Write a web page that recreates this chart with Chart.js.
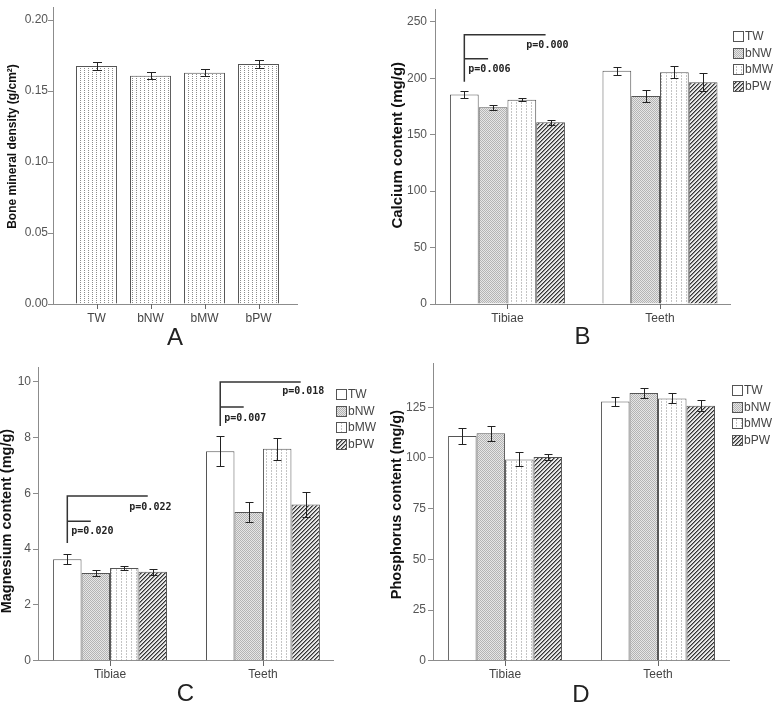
<!DOCTYPE html>
<html>
<head>
<meta charset="utf-8">
<script src="https://cdn.jsdelivr.net/npm/chart.js@4.4.1/dist/chart.umd.min.js"></script>
<style>
html, body { margin: 0; padding: 0; background: #fff; overflow: hidden; }
.panel { position: absolute; }
</style>
</head>
<body>
<div class="panel" style="left:0;top:0"><canvas id="chartA" width="390" height="350"></canvas></div>
<div class="panel" style="left:390px;top:0"><canvas id="chartB" width="385" height="350"></canvas></div>
<div class="panel" style="left:0;top:350px"><canvas id="chartC" width="390" height="354"></canvas></div>
<div class="panel" style="left:390px;top:350px"><canvas id="chartD" width="385" height="354"></canvas></div>
<script>
// ---- data ----
var groups = ['TW', 'bNW', 'bMW', 'bPW'];
var tissues = ['Tibiae', 'Teeth'];

var bmd = [0.1676, 0.1608, 0.1629, 0.1690];
var bmdSd = [0.0030, 0.0024, 0.0023, 0.0030];
var bmdTicks = [0, 0.05, 0.10, 0.15, 0.20];

// rows follow groups (TW, bNW, bMW, bPW), columns follow tissues (Tibiae, Teeth)
var calcium = [[185.7, 206.6], [174.3, 184.3], [181.0, 205.4], [161.0, 196.6]];
var calciumSd = [[3.3, 3.5], [2.0, 5.0], [1.5, 5.3], [2.0, 8.0]];
var calciumTicks = [0, 50, 100, 150, 200, 250];

var magnesium = [[3.64, 7.51], [3.14, 5.33], [3.32, 7.60], [3.19, 5.60]];
var magnesiumSd = [[0.17, 0.54], [0.10, 0.37], [0.07, 0.40], [0.11, 0.44]];
var magnesiumTicks = [0, 2, 4, 6, 8, 10];

var phosphorus = [[110.9, 127.8], [112.2, 132.0], [99.3, 129.4], [100.5, 125.8]];
var phosphorusSd = [[4.0, 2.2], [3.7, 2.5], [3.5, 2.5], [1.3, 2.8]];
var phosphorusTicks = [0, 25, 50, 75, 100, 125];

// significance brackets (y in data units)
var calciumP = [
  { cat: 0, from: 197, top: 238.6, mid: 217.4, pShort: 'p=0.006', yShort: 207.7, pLong: 'p=0.000', yLong: 228.9 }
];
var magnesiumP = [
  { cat: 0, from: 4.22, top: 5.9, mid: 5.0, pShort: 'p=0.020', yShort: 4.65, pLong: 'p=0.022', yLong: 5.5 },
  { cat: 1, from: 8.41, top: 9.99, mid: 9.09, pShort: 'p=0.007', yShort: 8.7, pLong: 'p=0.018', yLong: 9.67 }
];

// ---- fill patterns ----
function tile(w, h, fn) {
  var c = document.createElement('canvas');
  c.width = w; c.height = h;
  var g = c.getContext('2d');
  for (var y = 0; y < h; y++) {
    for (var x = 0; x < w; x++) {
      g.fillStyle = fn(x, y);
      g.fillRect(x, y, 1, 1);
    }
  }
  return g.createPattern(c, 'repeat');
}
var fillTW = '#ffffff';
var fillNW = tile(2, 2, function (x, y) { return (x + y) % 2 ? '#e6e6e6' : '#b4b4b4'; });
var fillMW = tile(5, 3, function (x, y) { return (x === 1 && y < 2) ? '#c4c4c4' : '#ffffff'; });
var fillPW = tile(4, 4, function (x, y) {
  var k = (x + y) % 4;
  return k === 3 ? '#333333' : (k === 0 ? '#8a8a8a' : '#e8e8e8');
});
var fillDots = tile(4, 2, function (x, y) { return (x === 0 && y === 0) ? '#8c8c8c' : '#ffffff'; });

var axisGray = '#8c8c8c';
var sans = 'Liberation Sans';
var sp = '\u2002';

function makePanel(id, p) {
  var datasets = p.series.map(function (vals, d) {
    return {
      label: p.labels[d],
      data: vals.map(function (v, i) { return { x: i, y: v }; }),
      backgroundColor: p.fills[d],
      borderColor: '#555',
      borderWidth: 1,
      categoryPercentage: p.catPct,
      barPercentage: 1
    };
  });

  var extras = {
    id: 'extras',
    afterDraw: function (chart) {
      var ctx = chart.ctx, ys = chart.scales.y, xs = chart.scales.x;
      var py = function (v) { return ys.getPixelForValue(v); };
      ctx.save();

      // category tick marks under the x axis
      ctx.strokeStyle = '#666';
      ctx.lineWidth = 1;
      var yb = Math.round(ys.getPixelForValue(0));
      p.cats.forEach(function (c, i) {
        var x = Math.round(xs.getPixelForValue(i)) + 0.5;
        ctx.beginPath();
        ctx.moveTo(x, yb);
        ctx.lineTo(x, yb + 5);
        ctx.stroke();
      });

      // error bars
      ctx.strokeStyle = '#222';
      p.sd.forEach(function (sds, d) {
        var meta = chart.getDatasetMeta(d);
        sds.forEach(function (e, i) {
          var v = p.series[d][i];
          var x = Math.round(meta.data[i].x) + 0.5;
          var y1 = Math.round(py(v + e)) + 0.5, y2 = Math.round(py(v - e)) + 0.5;
          ctx.beginPath();
          ctx.moveTo(x, y1); ctx.lineTo(x, y2);
          ctx.moveTo(x - p.cap, y1); ctx.lineTo(x + p.cap, y1);
          ctx.moveTo(x - p.cap, y2); ctx.lineTo(x + p.cap, y2);
          ctx.stroke();
        });
      });

      // p-value brackets
      ctx.strokeStyle = '#333';
      ctx.lineWidth = 1.5;
      ctx.fillStyle = '#222';
      ctx.font = 'bold 10px "DejaVu Sans Mono"';
      ctx.textBaseline = 'middle';
      ctx.textAlign = 'left';
      (p.brackets || []).forEach(function (b) {
        var x0 = chart.getDatasetMeta(0).data[b.cat].x;
        var xsh = chart.getDatasetMeta(1).data[b.cat].x - 5;
        var xl = chart.getDatasetMeta(3).data[b.cat].x - 5;
        ctx.beginPath();
        ctx.moveTo(x0, py(b.from)); ctx.lineTo(x0, py(b.top)); ctx.lineTo(xl, py(b.top));
        ctx.moveTo(x0, py(b.mid)); ctx.lineTo(xsh, py(b.mid));
        ctx.stroke();
        ctx.fillText(b.pShort, x0 + 4, py(b.yShort));
        ctx.fillText(b.pLong, x0 + 62, py(b.yLong));
      });

      // legend beside the plot
      if (p.legend) {
        var lx = chart.chartArea.right + 3;
        ctx.font = '12px "' + sans + '"';
        ctx.lineWidth = 1;
        chart.data.datasets.forEach(function (ds, d) {
          var cy = Math.round(chart.chartArea.top + 27 + d * 16.5);
          ctx.fillStyle = ds.backgroundColor;
          ctx.fillRect(lx, cy - 5, 10, 10);
          ctx.strokeStyle = '#555';
          ctx.strokeRect(lx + 0.5, cy - 4.5, 10, 10);
          ctx.fillStyle = '#444';
          ctx.fillText(ds.label, lx + 12, cy + 1);
        });
      }
      ctx.restore();
    }
  };

  return new Chart(document.getElementById(id), {
    type: 'bar',
    data: { datasets: datasets },
    options: {
      responsive: false,
      animation: false,
      devicePixelRatio: 1,
      layout: { padding: { top: p.top, right: p.right, bottom: 0, left: 0 } },
      plugins: { legend: { display: false }, tooltip: { enabled: false } },
      scales: {
        x: {
          type: 'linear', min: p.xMin, max: p.xMax, offset: false,
          border: { color: axisGray, width: 1 },
          grid: { offset: false, drawOnChartArea: false, drawTicks: false },
          ticks: {
            color: '#444', padding: 7, maxRotation: 0,
            font: { family: sans, size: 12 },
            callback: function (v) { return p.cats[v]; }
          },
          afterBuildTicks: function (s) { s.ticks = p.cats.map(function (c, i) { return { value: i }; }); },
          afterFit: function (s) { s.height = p.xHeight; },
          title: { display: true, text: p.letter, color: '#222', padding: 0,
                   font: { family: sans, size: 24, lineHeight: p.letterLh } }
        },
        y: {
          type: 'linear', min: 0, max: p.yMax,
          border: { color: axisGray, width: 1 },
          grid: { drawOnChartArea: false, tickLength: 5, color: axisGray },
          ticks: {
            color: '#555', padding: p.tickPad,
            font: { family: sans, size: 12, lineHeight: 1 },
            callback: p.fmt || function (v) { return v; }
          },
          afterBuildTicks: function (s) { s.ticks = p.yTicks.map(function (v) { return { value: v }; }); },
          afterFit: function (s) { s.width = p.yWidth; },
          title: { display: true, text: p.yTitle, color: '#111', padding: { top: p.titlePad, bottom: 0 },
                   font: { family: sans, size: p.titleSize, weight: 'bold', lineHeight: 1 } }
        }
      }
    },
    plugins: [extras]
  });
}

// leading / trailing en spaces nudge the rotated axis titles along the axis
makePanel('chartA', {
  cats: groups, series: [bmd], sd: [bmdSd], labels: ['BMD'], fills: [fillDots],
  catPct: 0.76, xMin: -0.806, xMax: 3.713, yMax: 0.2092, yTicks: bmdTicks,
  fmt: function (v) { return v.toFixed(2); },
  yTitle: sp + sp + sp + 'Bone mineral density (g/cm²)', titleSize: 12, titlePad: 6.5, tickPad: 0,
  top: 7, right: 93, yWidth: 53, xHeight: 46, letter: 'A', letterLh: 1.0, cap: 4.5
});

makePanel('chartB', {
  cats: tissues, series: calcium, sd: calciumSd, labels: groups,
  fills: [fillTW, fillNW, fillMW, fillPW],
  catPct: 0.754, xMin: -0.475, xMax: 1.459, yMax: 261.4, yTicks: calciumTicks,
  yTitle: sp + sp + sp + 'Calcium content (mg/g)', titleSize: 15, titlePad: 0, tickPad: 3,
  top: 7, right: 45, yWidth: 45, xHeight: 46, letter: 'B', letterLh: 1.08, cap: 4,
  brackets: calciumP, legend: true
});

makePanel('chartC', {
  cats: tissues, series: magnesium, sd: magnesiumSd, labels: groups,
  fills: [fillTW, fillNW, fillMW, fillPW],
  catPct: 0.745, xMin: -0.471, xMax: 1.458, yMax: 10.527, yTicks: magnesiumTicks,
  yTitle: 'Magnesium content (mg/g)' + sp + sp, titleSize: 14.5, titlePad: 0, tickPad: 2,
  top: 17, right: 57, yWidth: 38, xHeight: 43.3, letter: 'C', letterLh: 0.83, cap: 4,
  brackets: magnesiumP, legend: true
});

makePanel('chartD', {
  cats: tissues, series: phosphorus, sd: phosphorusSd, labels: groups,
  fills: [fillTW, fillNW, fillMW, fillPW],
  catPct: 0.745, xMin: -0.471, xMax: 1.464, yMax: 146.85, yTicks: phosphorusTicks,
  yTitle: sp + sp + 'Phosphorus content (mg/g)', titleSize: 14.5, titlePad: 0, tickPad: 2,
  top: 13, right: 46, yWidth: 43, xHeight: 43.3, letter: 'D', letterLh: 0.75, cap: 4,
  legend: true
});
</script>
</body>
</html>
